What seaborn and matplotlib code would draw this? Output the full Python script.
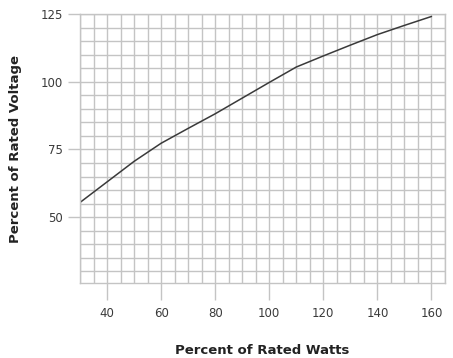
import matplotlib
matplotlib.use("Agg")
import matplotlib.pyplot as plt
from matplotlib.ticker import MultipleLocator, FixedLocator
import seaborn as sns
import pandas as pd

watts = [30, 40, 50, 60, 70, 80, 90, 100, 110, 120, 130, 140, 150, 160]
voltage = [55.4, 63.0, 70.6, 77.3, 82.8, 88.2, 94.0, 99.8, 105.5, 109.6, 113.6, 117.5, 120.9, 124.2]
x_ticks = [40, 60, 80, 100, 120, 140, 160]
y_ticks = [50, 75, 100, 125]

sns.set_style("white")
plt.rcParams['font.family'] = ['DejaVu Sans']

df = pd.DataFrame({"watts": watts, "voltage": voltage})

fig = plt.figure(figsize=(4.53, 3.58), dpi=100)
ax = fig.add_axes([80/453, 1-283.3/358, (445-80)/453, (283.3-14.3)/358])

grid_c = "#c4c4c4"
ax.xaxis.set_minor_locator(MultipleLocator(5))
ax.yaxis.set_minor_locator(MultipleLocator(5))
ax.grid(which="both", color=grid_c, linewidth=1.0)
ax.set_axisbelow(True)

sns.lineplot(data=df, x="watts", y="voltage", ax=ax, color="#3a3a3a", linewidth=1.1)

ax.set_xlim(30, 165)
ax.set_ylim(25.5, 125)
ax.xaxis.set_major_locator(FixedLocator(x_ticks))
ax.yaxis.set_major_locator(FixedLocator(y_ticks))
ax.tick_params(axis="x", which="major", length=12, width=1.0, color=grid_c, pad=5,
               labelsize=8.5, labelcolor="#3a3a3a", bottom=True)
ax.tick_params(axis="y", which="major", length=8.5, width=1.0, color=grid_c, pad=4,
               labelsize=8.5, labelcolor="#3a3a3a", left=True)
ax.tick_params(which="minor", length=0)
for s in ax.spines.values():
    s.set_color(grid_c)
    s.set_linewidth(1.0)

ax.set_xlabel("Percent of Rated Watts", fontsize=9.5, fontweight="bold", color="#222222", labelpad=17)
ax.set_ylabel("Percent of Rated Voltage", fontsize=9.5, fontweight="bold", color="#222222", labelpad=13)

fig.savefig("out.png", dpi=100)
